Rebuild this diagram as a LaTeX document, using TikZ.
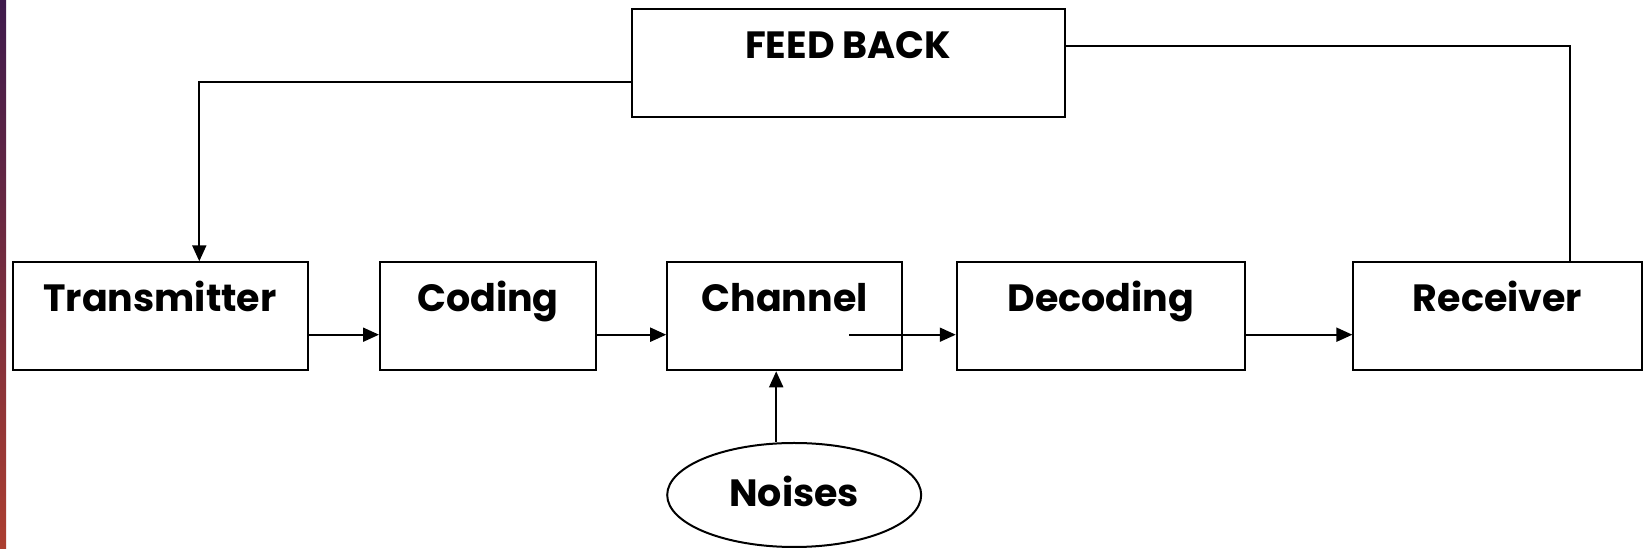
\documentclass[tikz,border=0pt]{standalone}
\usepackage{fontspec}
\setmainfont{Poppins}
\usetikzlibrary{arrows.meta,shapes.geometric}
\definecolor{stripTop}{RGB}{62,26,76}
\definecolor{stripMid}{RGB}{124,24,72}
\definecolor{stripBot}{RGB}{172,62,48}
\begin{document}
\begin{tikzpicture}[x=0.5pt,y=-0.5pt,
  box/.style={draw=black, line width=1pt, minimum height=54pt, inner sep=0pt},
  lbl/.style={font=\bfseries\fontsize{19}{23}\selectfont, inner sep=0pt, anchor=base},
  arr/.style={line width=1pt, -{Triangle[length=8pt,width=7pt]}},
  conn/.style={line width=1pt}]
\useasboundingbox (0,0) rectangle (1645,549);
\fill[white] (0,0) rectangle (1645,549);
\shade[top color=stripTop, middle color=stripMid, bottom color=stripBot] (0pt,0pt) rectangle (3pt,-274.5pt);

\node[box, minimum width=147.5pt] (tx) at (160,316.3) {};
\node[box, minimum width=108pt] (cod) at (488,316.3) {};
\node[box, minimum width=117.5pt] (ch) at (784.7,316.3) {};
\node[box, minimum width=144.25pt] (dec) at (1101,316.3) {};
\node[box, minimum width=144.25pt] (rx) at (1497.6,316.3) {};
\node[box, minimum width=216.65pt] (fb) at (848.2,63.4) {};
\node[draw, ellipse, line width=1pt, minimum width=127pt, minimum height=52pt, inner sep=0pt] (noise) at (794.2,495) {};

\node[lbl] (txl) at (160,312) {Transmitter};
\node[lbl] (codl) at (488,312) {Coding};
\node[lbl] (chl) at (784.7,312) {Channel};
\node[lbl] (decl) at (1101,312) {Decoding};
\node[lbl] (rxl) at (1497.6,312) {Receiver};
\node[lbl] (fbl) at (848.2,59) {FEED BACK};
\node[lbl] (noisel) at (794.2,507) {Noises};

\draw[arr] ([yshift=-9.2pt]tx.east) -- ([yshift=-9.2pt]cod.west);
\draw[arr] ([yshift=-9.2pt]cod.east) -- ([yshift=-9.2pt]ch.west);
\draw[arr] ([xshift=32.15pt,yshift=-9.2pt]ch.center) -- ([yshift=-9.2pt]dec.west);
\draw[arr] ([yshift=-9.2pt]dec.east) -- ([yshift=-9.2pt]rx.west);
\draw[arr] ([xshift=-9pt]noise.north) -- ([xshift=-9pt]noise.north |- ch.south);

\coordinate (fbr) at (1569.5,46.2);
\coordinate (fbleft) at (199.3,81.8);
\draw[conn] (rx.north -| fbr) -- (fbr) -- (fb.east |- fbr);
\draw[arr] (fb.west |- fbleft) -- (fbleft) -- (tx.north -| fbleft);
\end{tikzpicture}
\end{document}
